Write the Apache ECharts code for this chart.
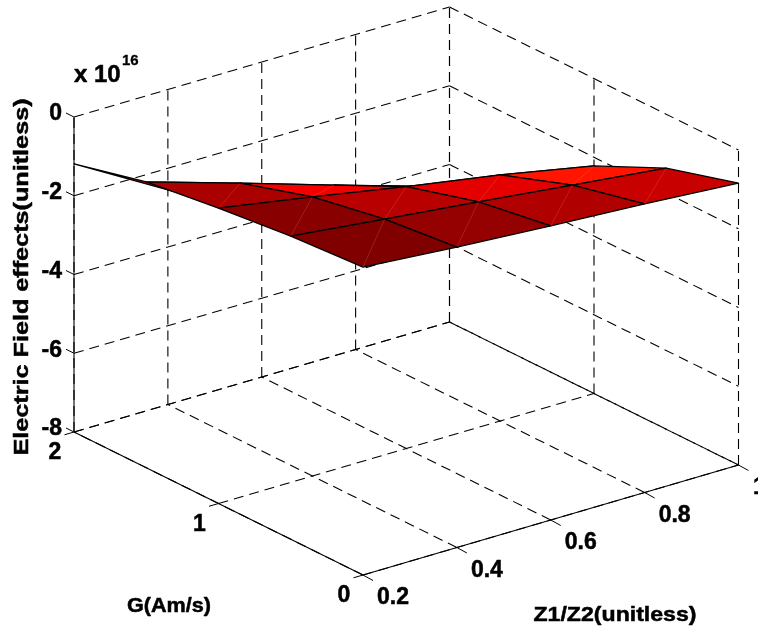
<!DOCTYPE html>
<html>
<head>
<meta charset="utf-8">
<style>html,body{margin:0;padding:0;background:#fff}#c{width:758px;height:630px}</style>
<script src="https://cdn.jsdelivr.net/npm/echarts@6/dist/echarts.min.js"></script>
</head>
<body>
<div id="c"></div>
<script>
// ---- data ----
const z1Values = [0.2, 0.4, 0.6, 0.8, 1];
const gValues = [0, 0.5, 1, 1.5, 2];
// electric field effect (x 10^16), one row per G value, one column per Z1/Z2 value
const zRowG0  = [-0.18, -0.37, -0.53, -0.67, -0.84];
const zRowG05 = [-0.30, -0.57, -0.83, -1.10, -1.37];
const zRowG1  = [-0.50, -0.91, -1.35, -1.75, -2.22];
const zRowG15 = [-0.74, -1.47, -2.22, -2.95, -3.60];
const zRowG2  = [-1.19, -2.55, -3.90, -5.00, -6.00];
const zTicks = [0, -2, -4, -6, -8];
const z1Ticks = [0.2, 0.4, 0.6, 0.8, 1];
const gTicks = [0, 1, 2];
const zTickLabels = ['0', '-2', '-4', '-6', '-8'];
const z1TickLabels = ['0.2', '0.4', '0.6', '0.8', '1'];
const gTickLabels = ['0', '1', '2'];

// ---- view of the 3-D box on the flat grid ----
const zRows = [zRowG0, zRowG05, zRowG1, zRowG15, zRowG2];
const view = {ox: 363, oy: 575, ux: 375.5, uy: -110, vx: -289, vy: -143, wy: -39.375};
function project(z1, g, z) {
  const u = (z1 - 0.2) / 0.8, v = g / 2;
  return [view.ox + view.ux * u + view.vx * v,
          view.oy + view.uy * u + view.vy * v + view.wy * (z + 8)];
}
// jet colormap, top of the range
function faceColor(z) {
  const top = -0.25, eighth = 0.73;
  const d = top - z;
  if (d <= 0) return 'rgb(128,0,0)';
  if (d <= eighth) return 'rgb(' + Math.round(128 + 127 * d / eighth) + ',0,0)';
  const g = Math.min(255, Math.round(255 * (d - eighth) / (2 * eighth)));
  return 'rgb(255,' + g + ',0)';
}

// ---- facets, far to near ----
const facets = [];
for (let j = 0; j < 4; j++) for (let i = 0; i < 4; i++) facets.push([i, j]);
facets.sort((a, b) => (b[0] + b[1]) - (a[0] + a[1]));

// ---- grid segments ----
const zMin = -8, zMax = 0, gMax = 2, z1Min = 0.2, z1Max = 1, gMin = 0;
const dashed = [];
zTicks.forEach(z => {
  dashed.push([[z1Min, gMax, z], [z1Max, gMax, z]]);
  dashed.push([[z1Max, gMax, z], [z1Max, gMin, z]]);
});
z1Ticks.forEach(t => {
  dashed.push([[t, gMin, zMin], [t, gMax, zMin]]);
  dashed.push([[t, gMax, zMin], [t, gMax, zMax]]);
});
gTicks.forEach(t => {
  dashed.push([[z1Min, t, zMin], [z1Max, t, zMin]]);
  dashed.push([[z1Max, t, zMin], [z1Max, t, zMax]]);
});
const solid = [
  [[z1Min, gMax, zMin], [z1Min, gMax, zMax]],
  [[z1Min, gMax, zMin], [z1Min, gMin, zMin]],
  [[z1Min, gMin, zMin], [z1Max, gMin, zMin]]
];

const family = '"Liberation Sans", Arial, sans-serif';
const tickFont = 'bold 23px ' + family;
const titleFont = 'bold 20px ' + family;
const axisFont = 'bold 21px ' + family;
const ink = {fill: '#000', stroke: '#000', lineWidth: 0.5, align: 'center', verticalAlign: 'middle'};

function seg(api, p, q, style) {
  const a = api.coord(project(p[0], p[1], p[2])), b = api.coord(project(q[0], q[1], q[2]));
  return {type: 'line', shape: {x1: a[0], y1: a[1], x2: b[0], y2: b[1]}, style: style};
}
function label(api, base, dx, dy, text, font, align) {
  const a = api.coord(base);
  return {type: 'text', x: a[0] + dx, y: a[1] + dy,
          style: Object.assign({}, ink, {text: text, font: font, align: align || 'center'})};
}

const option = {
  animation: false,
  backgroundColor: '#fff',
  grid: {left: 0, right: 0, top: 0, bottom: 0},
  xAxis: {type: 'value', min: 0, max: 758, show: false},
  yAxis: {type: 'value', min: 0, max: 630, inverse: true, show: false},
  series: [
    { // back grid
      type: 'custom', coordinateSystem: 'cartesian2d', silent: true, clip: false, z: 1,
      data: dashed.map((s, k) => [k]),
      renderItem: (p, api) => {
        const s = dashed[api.value(0)];
        return seg(api, s[0], s[1], {stroke: '#000', lineWidth: 1.1, lineDash: [10, 6], fill: null});
      }
    },
    { // box edges and ticks
      type: 'custom', coordinateSystem: 'cartesian2d', silent: true, clip: false, z: 2,
      data: [[0]],
      renderItem: (p, api) => {
        const kids = solid.map(s => seg(api, s[0], s[1], {stroke: '#000', lineWidth: 1.1, fill: null}));
        const tick = (pt, dx, dy) => {
          const a = api.coord(pt);
          kids.push({type: 'line', shape: {x1: a[0], y1: a[1], x2: a[0] + dx, y2: a[1] + dy},
                     style: {stroke: '#000', lineWidth: 1, fill: null}});
        };
        zTicks.forEach(z => tick(project(z1Min, gMax, z), -8, -4));
        z1Ticks.forEach(t => tick(project(t, gMin, zMin), 10, 5.5));
        gTicks.forEach(t => tick(project(z1Min, t, zMin), -9.5, 2.8));
        return {type: 'group', children: kids};
      }
    },
    { // surface
      type: 'custom', coordinateSystem: 'cartesian2d', silent: true, clip: false, z: 3,
      data: facets,
      renderItem: (p, api) => {
        const i = api.value(0), j = api.value(1);
        const pt = (a, b) => api.coord(project(z1Values[a], gValues[b], zRows[b][a]));
        const A = pt(i, j), B = pt(i + 1, j), C = pt(i + 1, j + 1), D = pt(i, j + 1);
        const col = faceColor(zRows[j][i]);
        return {type: 'group', children: [
          {type: 'polygon', shape: {points: [A, B, C, D]},
           style: {fill: col, stroke: '#000', lineWidth: 1.3, lineJoin: 'round'}},
          {type: 'line', shape: {x1: A[0], y1: A[1], x2: C[0], y2: C[1]},
           style: {stroke: 'rgba(255,170,110,0.28)', lineWidth: 0.7, fill: null}}
        ]};
      }
    },
    { // texts
      type: 'custom', coordinateSystem: 'cartesian2d', silent: true, clip: false, z: 4,
      data: [[0]],
      renderItem: (p, api) => {
        const kids = [];
        zTicks.forEach((z, k) => kids.push(label(api, project(z1Min, gMax, z), -12, -3, zTickLabels[k], tickFont, 'right')));
        gTicks.forEach((t, k) => kids.push(label(api, project(z1Min, t, zMin), -19, 21, gTickLabels[k], tickFont)));
        z1Ticks.forEach((t, k) => kids.push(label(api, project(t, gMin, zMin), k === 4 ? 21 : 30, 23, z1TickLabels[k], tickFont)));
        const pos = (x, y) => api.coord([x, y]);
        const a = pos(22, 277), b = pos(169, 606), c = pos(615, 615), d = pos(74, 75), e = pos(122, 61);
        kids.push({type: 'text', x: a[0], y: a[1], rotation: -Math.PI / 2 * -1, scaleX: 1.26,
          style: Object.assign({}, ink, {text: 'Electric Field effects(unitless)', font: titleFont})});
        kids.push({type: 'text', x: b[0], y: b[1], scaleX: 1.03,
          style: Object.assign({}, ink, {text: 'G(Am/s)', font: axisFont})});
        kids.push({type: 'text', x: c[0], y: c[1], scaleX: 1.1,
          style: Object.assign({}, ink, {text: 'Z1/Z2(unitless)', font: axisFont})});
        kids.push({type: 'text', x: d[0], y: d[1],
          style: Object.assign({}, ink, {text: 'x 10', font: 'bold 24px ' + family, align: 'left'})});
        kids.push({type: 'text', x: e[0], y: e[1],
          style: Object.assign({}, ink, {text: '16', font: 'bold 15px ' + family, align: 'left', lineWidth: 0.3})});
        return {type: 'group', children: kids};
      }
    }
  ]
};
const chart = echarts.init(document.getElementById('c'));
chart.setOption(option);
</script>
</body>
</html>
